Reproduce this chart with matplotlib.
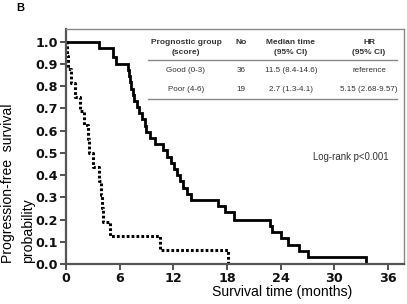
import matplotlib
matplotlib.use("Agg")
import matplotlib.pyplot as plt
from matplotlib.lines import Line2D

# Good prognosis group (0-3): step times (months) and survival levels
good_t = [0, 3.7, 5.25, 5.6, 6.9, 7.0, 7.15, 7.3, 7.45, 7.6, 7.9, 8.2, 8.5, 8.8, 9.0, 9.4, 9.9,
          10.8, 11.3, 11.7, 12.1, 12.4, 12.8, 13.1, 13.5, 14.0, 17.0, 17.8, 18.8,
          22.8, 23.0, 24.1, 24.8, 26.1, 27.1, 33.6]
good_s = [1.0, 0.972, 0.93, 0.90, 0.872, 0.844, 0.817, 0.789, 0.761, 0.733, 0.706, 0.678, 0.65,
          0.622, 0.594, 0.567, 0.539,
          0.511, 0.483, 0.456, 0.428, 0.40, 0.372, 0.344, 0.317, 0.289, 0.261, 0.233, 0.20,
          0.172, 0.144, 0.116, 0.086, 0.058, 0.03, 0.0]

# Poor prognosis group (4-6)
poor_t = [0, 0.15, 0.25, 0.55, 1.0, 1.6, 2.05, 2.5, 2.6, 3.05, 3.65, 3.9, 4.0, 4.1, 4.95, 10.5, 18.1]
poor_s = [1.0, 0.9375, 0.875, 0.8125, 0.75, 0.6875, 0.625, 0.5625, 0.5, 0.4375, 0.375, 0.3125,
          0.25, 0.1875, 0.125, 0.0625, 0.0]

x_ticks = [0, 6, 12, 18, 24, 30, 36]
y_ticks = [0.0, 0.1, 0.2, 0.3, 0.4, 0.5, 0.6, 0.7, 0.8, 0.9, 1.0]

table_header = [["Prognostic group", "(score)"], ["No"], ["Median time", "(95% CI)"], ["HR", "(95% CI)"]]
table_rows = [["Good (0-3)", "36", "11.5 (8.4-14.6)", "reference"],
              ["Poor (4-6)", "19", "2.7 (1.3-4.1)", "5.15 (2.68-9.57)"]]

W, H = 407, 304
fig = plt.figure(figsize=(W / 100, H / 100), dpi=100)
ax = fig.add_axes([66 / W, 1 - 264 / H, (404 - 66) / W, (264 - 29) / H])

ax.step(good_t, good_s, where="post", color="black", lw=2.0, solid_joinstyle="miter")
ax.step(poor_t, poor_s, where="post", color="black", lw=2.2, linestyle=(0, (0.9, 0.7)))

ax.set_xlim(0, 37.8)
ax.set_ylim(0, 1.057)
ax.set_xticks(x_ticks)
ax.set_yticks(y_ticks)
ax.set_xticklabels([str(v) for v in x_ticks])
ax.set_yticklabels([f"{v:.1f}" for v in y_ticks])
ax.tick_params(axis="both", direction="out", length=4, width=1.3, color="#444444",
               labelsize=9.2, pad=2)
for lab in ax.get_xticklabels() + ax.get_yticklabels():
    lab.set_family("DejaVu Sans")
    lab.set_weight("bold")
    lab.set_color("#111111")
for s in ["left", "bottom"]:
    ax.spines[s].set_color("#555555")
    ax.spines[s].set_linewidth(1.6)
for s in ["top", "right"]:
    ax.spines[s].set_color("#8a8a8a")
    ax.spines[s].set_linewidth(1.0)

lab_font = "Liberation Sans"
fig.text(281.7 / W, 1 - 292 / H, "Survival time (months)", ha="center", va="center",
         fontsize=10.1, family=lab_font)
fig.text(12 / W, 1 - 263 / H, "Progression-free  survival", rotation=90, rotation_mode="anchor",
         ha="left", va="baseline", fontsize=10.1, family=lab_font)
fig.text(32.5 / W, 1 - 263 / H, "probability", rotation=90, rotation_mode="anchor",
         ha="left", va="baseline", fontsize=10.1, family=lab_font)
fig.text(20.5 / W, 1 - 8 / H, "B", ha="center", va="center", fontsize=8, weight="bold",
         family=lab_font)

# table
col_x = [186, 241, 291, 369]
hdr_y = [42.7, 52.3]
row_y = [70.3, 89.3]
tcol = "#333333"
for cx, lines in zip(col_x, table_header):
    if len(lines) == 1:
        fig.text(cx / W, 1 - hdr_y[0] / H, lines[0], ha="center", va="center", fontsize=6,
                 weight="bold", family=lab_font, color=tcol)
    else:
        for ly, txt in zip(hdr_y, lines):
            fig.text(cx / W, 1 - ly / H, txt, ha="center", va="center", fontsize=6,
                     weight="bold", family=lab_font, color=tcol)
for ry, row in zip(row_y, table_rows):
    for cx, txt in zip(col_x, row):
        fig.text(cx / W, 1 - ry / H, txt, ha="center", va="center", fontsize=5.8,
                 family=lab_font, color=tcol)
for ly in [60, 99.3]:
    fig.add_artist(Line2D([148 / W, 397 / W], [1 - ly / H, 1 - ly / H], color="#8a8a8a", lw=1.0))

fig.text(350.8 / W, 1 - 157.3 / H, "Log-rank p<0.001", ha="center", va="center", fontsize=6.9,
         family=lab_font, color=tcol)

fig.savefig("out.png", dpi=100)
